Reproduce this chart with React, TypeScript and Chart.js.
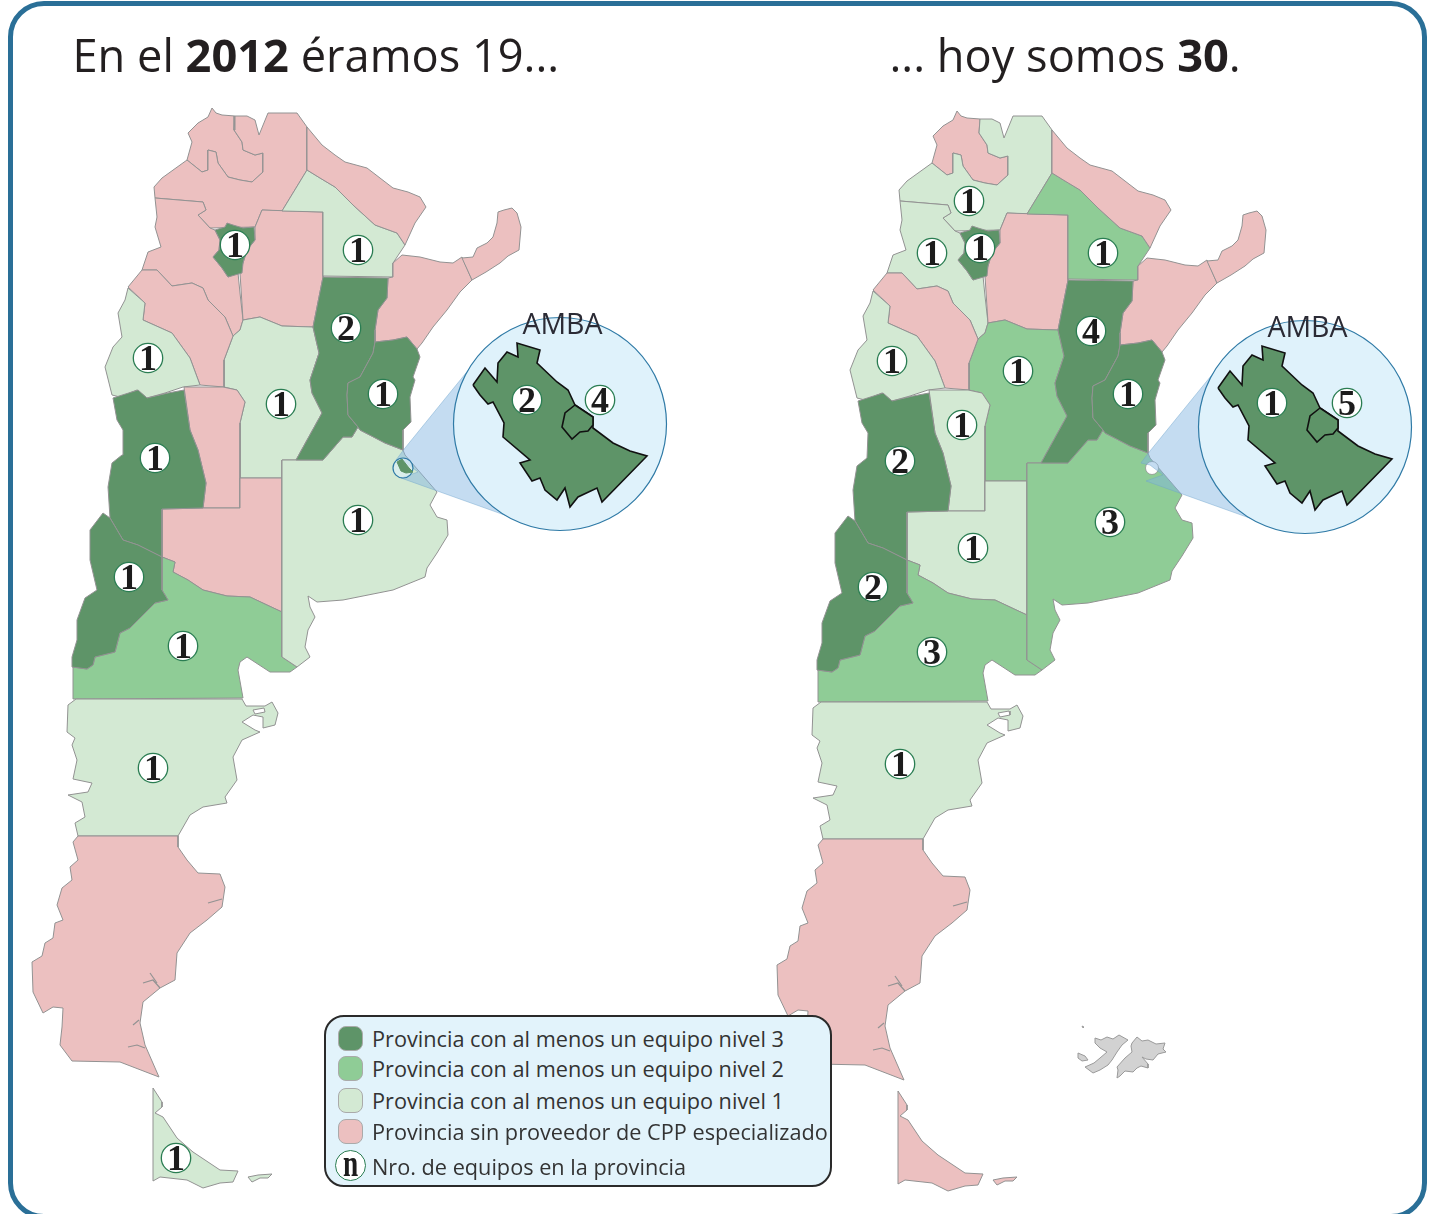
import React, { useEffect, useRef } from "react";
import { Chart, registerables } from "chart.js";

Chart.register(...registerables);

type P = number[];

const JUJUY: P[] = [[212,108],[216,113],[222,115],[235,116],[234,130],[242,142],[243,150],[255,155],[263,153],[263,172],[252,182],[240,180],[228,177],[218,163],[216,152],[208,150],[208,170],[202,172],[187,160],[192,142],[188,133],[198,123],[208,117]];
const SALTA: P[] = [[235,116],[247,116],[255,120],[259,135],[268,113],[297,113],[307,127],[307,170],[282,211],[262,210],[255,227],[210,228],[198,215],[206,210],[203,202],[155,198],[154,187],[162,178],[187,160],[202,172],[208,170],[208,150],[216,152],[218,163],[228,177],[240,180],[252,182],[263,172],[263,153],[255,155],[243,150],[242,142],[234,130]];
const TUCUMAN: P[] = [[215,230],[225,227],[227,223],[233,225],[243,228],[254,227],[255,240],[247,250],[243,263],[242,273],[228,277],[222,268],[213,257],[219,250],[220,240]];
const CATAMARCA: P[] = [[155,198],[203,202],[206,210],[198,215],[210,228],[215,230],[220,240],[219,250],[213,257],[222,268],[228,277],[238,273],[240,293],[243,320],[240,330],[233,336],[225,317],[208,300],[203,288],[192,283],[172,286],[157,270],[142,270],[148,252],[161,247],[155,227],[157,217]];
const SANTIAGO: P[] = [[262,210],[323,212],[323,277],[313,327],[282,326],[260,317],[243,320],[240,273],[243,263],[247,250],[255,240],[255,227]];
const CHACO: P[] = [[307,170],[320,178],[335,187],[353,205],[375,225],[397,233],[405,245],[393,263],[393,277],[323,276],[323,212],[282,211]];
const FORMOSA: P[] = [[307,127],[322,145],[335,155],[345,162],[367,168],[380,178],[393,188],[408,192],[420,197],[426,207],[415,223],[405,245],[397,233],[375,225],[353,205],[335,187],[320,178],[307,170]];
const CORRIENTES: P[] = [[393,263],[402,255],[420,257],[440,262],[453,263],[462,257],[472,280],[460,292],[447,310],[433,327],[422,343],[417,349],[407,337],[393,340],[375,342],[375,330],[378,310],[387,298],[388,278],[393,277]];
const MISIONES: P[] = [[462,258],[473,257],[477,248],[487,243],[493,237],[497,223],[498,212],[504,210],[512,208],[517,213],[521,227],[519,250],[508,256],[500,263],[486,272],[472,280]];
const SANTA_FE: P[] = [[323,277],[388,278],[387,298],[378,310],[375,330],[375,342],[373,353],[360,377],[348,383],[347,395],[348,415],[358,427],[352,437],[343,437],[323,460],[296,460],[322,413],[312,393],[310,380],[319,353],[313,327]];
const ENTRE_RIOS: P[] = [[375,342],[393,340],[407,337],[417,349],[420,357],[413,377],[415,380],[410,397],[411,422],[403,430],[403,450],[385,443],[360,430],[358,427],[348,415],[347,395],[348,383],[360,377],[373,353]];
const CORDOBA: P[] = [[233,336],[240,330],[243,320],[260,317],[282,326],[313,327],[319,353],[310,380],[312,393],[322,413],[296,460],[282,460],[282,478],[240,478],[240,423],[245,402],[237,390],[224,387],[224,360]];
const LA_RIOJA: P[] = [[128,287],[142,270],[157,270],[172,286],[192,283],[203,288],[208,300],[225,317],[233,336],[224,360],[224,387],[200,385],[190,358],[172,333],[143,320],[145,303]];
const SAN_JUAN: P[] = [[128,288],[145,303],[143,320],[172,333],[190,358],[200,385],[183,387],[165,393],[147,398],[137,390],[120,397],[112,395],[105,367],[113,347],[122,337],[118,313],[125,300]];
const SAN_LUIS: P[] = [[184,387],[223,387],[237,390],[245,402],[240,423],[240,508],[203,508],[206,483],[198,450],[190,430]];
const MENDOZA: P[] = [[113,398],[138,390],[147,398],[168,393],[184,390],[190,430],[198,450],[206,483],[203,508],[162,509],[162,557],[138,545],[123,540],[110,518],[108,487],[112,463],[122,455],[123,430],[117,420]];
const NEUQUEN: P[] = [[103,513],[110,518],[123,540],[138,545],[162,557],[162,590],[168,600],[155,603],[130,628],[120,633],[115,652],[95,657],[93,665],[87,669],[72,667],[72,657],[77,640],[77,620],[85,598],[97,590],[90,560],[90,530]];
const LA_PAMPA: P[] = [[162,509],[203,508],[240,508],[240,478],[282,478],[282,612],[267,605],[250,597],[227,596],[203,590],[188,580],[173,572],[175,562],[162,557]];
const RIO_NEGRO: P[] = [[162,557],[175,562],[173,572],[188,580],[203,590],[227,596],[250,597],[267,605],[282,612],[282,657],[297,667],[290,672],[270,672],[247,657],[240,662],[238,670],[243,698],[73,699],[73,667],[87,669],[93,665],[95,657],[115,652],[120,633],[130,628],[155,603],[168,600],[162,590]];
const BUENOS_AIRES: P[] = [[282,460],[296,460],[323,460],[343,437],[352,437],[358,427],[360,430],[385,443],[403,450],[405,455],[437,492],[430,505],[437,517],[447,520],[448,535],[437,553],[427,568],[425,577],[393,590],[343,600],[317,602],[308,596],[310,607],[315,617],[308,630],[305,647],[310,657],[297,667],[282,657]];
const CHUBUT: P[] = [[76,699],[242,699],[246,706],[265,706],[272,702],[278,713],[275,725],[263,728],[263,717],[253,715],[242,722],[255,730],[260,732],[242,740],[233,757],[237,780],[225,797],[227,803],[203,807],[190,815],[178,836],[78,836],[75,823],[85,817],[82,802],[68,795],[88,792],[92,783],[73,779],[77,760],[72,745],[75,738],[67,732],[68,705]];
const SANTA_CRUZ: P[] = [[78,836],[178,836],[178,847],[187,860],[198,873],[220,874],[225,887],[222,907],[207,920],[190,933],[177,953],[175,980],[160,988],[143,1002],[140,1023],[145,1045],[159,1077],[120,1062],[72,1061],[60,1045],[62,1027],[63,1008],[53,1007],[43,1013],[33,992],[32,962],[42,956],[45,943],[53,938],[55,923],[63,920],[57,905],[62,888],[72,880],[70,867],[78,860],[73,842]];
const TIERRA_DEL_FUEGO: P[] = [[153,1088],[162,1102],[162,1107],[155,1113],[163,1117],[177,1138],[193,1152],[220,1170],[238,1171],[233,1182],[220,1183],[203,1188],[187,1180],[160,1177],[153,1181]];
const ISLA_ESTADOS: P[] = [[248,1177],[258,1175],[272,1174],[268,1178],[260,1178],[252,1182]];

const PROVINCES: P[][] = [JUJUY, SALTA, CATAMARCA, SANTIAGO, CHACO, FORMOSA, CORRIENTES, MISIONES, CORDOBA, LA_RIOJA, SAN_JUAN, SAN_LUIS, LA_PAMPA, RIO_NEGRO, BUENOS_AIRES, SANTA_FE, ENTRE_RIOS, MENDOZA, NEUQUEN, TUCUMAN, CHUBUT, SANTA_CRUZ, TIERRA_DEL_FUEGO, ISLA_ESTADOS];
// level per province: 0 = sin proveedor, 1..3 = nivel
const LEVELS_2012 = [0,0,0,0,1,0,0,0,1,0,1,0,0,2,1,3,3,3,3,3,1,0,1,1];
const LEVELS_HOY  = [0,1,1,0,2,0,0,0,2,0,1,1,1,2,2,3,3,3,3,3,1,0,0,0];

const RIVERS: P[][] = [
  [[208,903],[222,899]],
  [[143,983],[153,980],[160,988]],
  [[150,973],[157,983]],
  [[133,1025],[139,1020]],
  [[128,1047],[137,1045],[145,1048]],
];
const GOLFO: P[] = [[253,710],[264,708],[265,712],[255,714]];

const AMBA: P[] = [[473,385],[485,368],[497,382],[498,363],[507,352],[518,357],[517,343],[540,350],[537,363],[557,382],[568,390],[575,405],[593,417],[593,428],[613,443],[630,451],[647,456],[602,502],[597,488],[578,497],[570,507],[565,488],[557,500],[545,490],[540,478],[532,481],[520,463],[530,460],[503,437],[504,423],[493,402],[488,404],[480,395]];
const CABA: P[] = [[575,405],[593,417],[593,425],[588,431],[580,432],[572,439],[562,427],[565,413]];
const AMBA_MINI: P[] = [[397,462],[402,459],[409,468],[413,472],[406,473],[401,471]];
const CONE: P[] = [[396,460],[405,448],[470,368],[560,424],[513,518],[401,478],[418,472],[405,462]];
const AMBA_CENTER: P = [560, 424];
const AMBA_MINI_CENTER: P = [403, 468];
const BAY_CENTER: P = [407, 465];

const MALVINAS: P[][] = [
  [[1095,1038],[1101,1040],[1107,1037],[1113,1039],[1119,1035],[1128,1040],[1122,1045],[1117,1052],[1112,1060],[1108,1065],[1100,1070],[1093,1073],[1085,1067],[1094,1063],[1100,1058],[1107,1052],[1100,1048],[1095,1043]],
  [[1137,1037],[1142,1041],[1148,1040],[1156,1044],[1165,1043],[1163,1049],[1166,1052],[1158,1054],[1153,1060],[1146,1059],[1142,1057],[1148,1064],[1148,1068],[1141,1066],[1137,1068],[1133,1072],[1125,1071],[1120,1076],[1117,1078],[1118,1070],[1117,1067],[1125,1058],[1132,1052],[1131,1046],[1132,1043]],
  [[1078,1053],[1085,1056],[1088,1060],[1082,1061],[1078,1058]],
  [[1082,1026],[1084,1027],[1083,1028]],
];

const BADGES_2012: number[][] = [[235,245,1],[358,250,1],[346,328,2],[383,394,1],[148,358,1],[281,404,1],[155,458,1],[358,520,1],[129,577,1],[183,646,1],[153,768,1],[176,1158,1],[527,400,2],[600,400,4]];
const BADGES_HOY: number[][] = [[969,201,1],[932,253,1],[980,248,1],[1103,253,1],[1091,331,4],[892,361,1],[1018,371,1],[1128,394,1],[962,425,1],[900,461,2],[1110,522,3],[973,548,1],[873,587,2],[932,652,3],[900,764,1],[1272,403,1],[1347,403,5]];

const TITLE_2012 = ["En el ", "2012", " éramos 19..."];
const TITLE_HOY = ["... hoy somos ", "30", "."];
const AMBA_LABEL = "AMBA";
const LEGEND_ROWS = [
  "Provincia con al menos un equipo nivel 3",
  "Provincia con al menos un equipo nivel 2",
  "Provincia con al menos un equipo nivel 1",
  "Provincia sin proveedor de CPP especializado",
];
const LEGEND_BADGE = "Nro. de equipos en la provincia";

const LEVEL_COLORS = ["#ecc0c0", "#d3e9d3", "#8fcc96", "#5e9468"];
const BORDER = "#929292";
const SHIFT = [745, 3];

const move = (pts: P[], dx: number, dy: number) => pts.map(([x, y]) => ({ x: x + dx, y: y + dy }));
const poly = (pts: P[], dx: number, dy: number, fillC: string, stroke: string, bw = 1) => {
  const data = move(pts, dx, dy);
  data.push(data[0]);
  return { type: "scatter", data, showLine: true, fill: "shape", backgroundColor: fillC, borderColor: stroke, borderWidth: bw, pointRadius: 0, tension: 0 };
};
const open = (pts: P[], dx: number, dy: number) => ({ type: "scatter", data: move(pts, dx, dy), showLine: true, fill: false, borderColor: BORDER, borderWidth: 1.2, pointRadius: 0, tension: 0 });
const circle = (c: P, dx: number, dy: number, r: number, bg: string, stroke: string, bw: number) => ({ type: "scatter", data: move([c], dx, dy), pointRadius: r, backgroundColor: bg, borderColor: stroke, borderWidth: bw, showLine: false });

function buildMap(levels: number[], dx: number, dy: number, withMini: boolean) {
  const out: any[] = [];
  PROVINCES.forEach((p, i) => out.push(poly(p, dx, dy, LEVEL_COLORS[levels[i]], BORDER)));
  out.push(poly(GOLFO, dx, dy, "#ffffff", BORDER));
  RIVERS.forEach((r) => out.push(open(r, dx, dy)));
  if (!withMini) out.push(circle(BAY_CENTER, dx, dy, 6.5, "#ffffff", "#929292", 0.8));
  out.push(poly(CONE, dx, dy, "rgba(130,180,225,0.47)", "rgba(110,165,205,0.45)"));
  if (withMini) {
    out.push(circle(AMBA_MINI_CENTER, dx, dy, 10, "rgba(223,242,251,0.6)", "#2f7aa6", 1.2));
    out.push(poly(AMBA_MINI, dx, dy, LEVEL_COLORS[3], "#5e9468"));
  }
  out.push(circle(AMBA_CENTER, dx, dy, 106.5, "#dff2fb", "#2f7aa6", 1.2));
  out.push(poly(AMBA, dx, dy, LEVEL_COLORS[3], "#111111", 1.6));
  out.push(poly(CABA, dx, dy, LEVEL_COLORS[3], "#111111", 1.6));
  return out;
}

function badges(list: number[][]) {
  return {
    type: "scatter",
    data: list.map(([x, y]) => ({ x, y })),
    pointRadius: 14.7,
    backgroundColor: "#ffffff",
    borderColor: "#2a7d52",
    borderWidth: 1.3,
    showLine: false,
    badgeLabels: list.map((b) => String(b[2])),
  };
}

const textPlugin = {
  id: "mapText",
  afterDatasetsDraw(chart: any) {
    const { ctx, scales } = chart;
    ctx.save();
    ctx.textAlign = "center";
    ctx.textBaseline = "alphabetic";
    chart.data.datasets.forEach((ds: any) => {
      if (!ds.badgeLabels) return;
      ctx.font = "bold 36px 'Liberation Serif'";
      ctx.fillStyle = "#1c1c1c";
      ds.data.forEach((pt: any, i: number) => {
        ctx.fillText(ds.badgeLabels[i], scales.x.getPixelForValue(pt.x), scales.y.getPixelForValue(pt.y) + 12);
      });
    });
    ctx.font = "28.5px 'Open Sans'";
    ctx.fillStyle = "#2b2b35";
    [[0, 0], SHIFT].forEach(([dx, dy]) => {
      ctx.fillText(AMBA_LABEL, scales.x.getPixelForValue(AMBA_CENTER[0] + 2.5 + dx), scales.y.getPixelForValue(333.5 + dy));
    });
    ctx.restore();
  },
};

export default function App() {
  const ref = useRef<HTMLCanvasElement>(null);
  useEffect(() => {
    document.body.style.margin = "0";
    document.body.style.overflow = "hidden";
    const sets: any[] = [
      ...buildMap(LEVELS_2012, 0, 0, true),
      ...buildMap(LEVELS_HOY, SHIFT[0], SHIFT[1], false),
      ...MALVINAS.map((m) => poly(m, 0, 0, "#d2d2d2", "#9a9a9a")),
      badges(BADGES_2012),
      badges(BADGES_HOY),
    ];
    sets.forEach((s, i) => (s.order = -i));
    const chart = new Chart(ref.current!, {
      type: "scatter",
      data: { datasets: sets },
      options: {
        animation: false,
        responsive: false,
        events: [],
        layout: { padding: 0, autoPadding: false },
        plugins: { legend: { display: false }, tooltip: { enabled: false }, title: { display: false } },
        scales: {
          x: { type: "linear", min: 0, max: 1430, display: false },
          y: { type: "linear", min: 0, max: 1214, reverse: true, display: false },
        },
      },
      plugins: [textPlugin],
    } as any);
    return () => chart.destroy();
  }, []);

  const titleStyle: React.CSSProperties = { position: "absolute", top: 25, fontFamily: "'Open Sans'", fontSize: 45.2, lineHeight: "60px", color: "#231f20", whiteSpace: "pre" };
  const rowTops = [1039, 1069, 1101, 1132];
  return (
    <div style={{ position: "absolute", left: 0, top: 0, width: 1430, height: 1214, overflow: "hidden", background: "#fff" }}>
      <div style={{ position: "absolute", left: 8, top: 1, width: 1419, height: 1218, boxSizing: "border-box", border: "5px solid #2a6f97", borderRadius: 36 }} />
      <canvas ref={ref} width={1430} height={1214} style={{ position: "absolute", left: 0, top: 0, width: 1430, height: 1214 }} />
      <div style={{ ...titleStyle, left: 72.5 }}>{TITLE_2012[0]}<b>{TITLE_2012[1]}</b>{TITLE_2012[2]}</div>
      <div style={{ ...titleStyle, left: 889.5 }}>{TITLE_HOY[0]}<b>{TITLE_HOY[1]}</b>{TITLE_HOY[2]}</div>
      <div style={{ position: "absolute", left: 324, top: 1015, width: 508, height: 172, boxSizing: "border-box", border: "2px solid #2a2a2a", borderRadius: 20, background: "#e2f3fb" }} />
      {LEGEND_ROWS.map((t, i) => (
        <React.Fragment key={t}>
          <div style={{ position: "absolute", left: 338, top: rowTops[i] - 13, width: 25, height: 25, boxSizing: "border-box", borderRadius: 8, background: LEVEL_COLORS[3 - i], border: "1px solid #aaa" }} />
          <div style={{ position: "absolute", left: 372, top: rowTops[i] - 15, fontFamily: "'Open Sans'", fontSize: 21.7, lineHeight: "30px", color: "#333", whiteSpace: "pre" }}>{t}</div>
        </React.Fragment>
      ))}
      <div style={{ position: "absolute", left: 335, top: 1150, width: 31, height: 31, boxSizing: "border-box", borderRadius: "50%", background: "#fff", border: "1.3px solid #2a7d52", textAlign: "center", fontFamily: "'Liberation Serif'", fontWeight: 700, fontSize: 38, lineHeight: "24px", color: "#1c1c1c" }}><span style={{ display: "inline-block", transform: "scaleX(0.72)" }}>n</span></div>
      <div style={{ position: "absolute", left: 372, top: 1152, fontFamily: "'Open Sans'", fontSize: 21.7, lineHeight: "30px", color: "#333", whiteSpace: "pre" }}>{LEGEND_BADGE}</div>
    </div>
  );
}
